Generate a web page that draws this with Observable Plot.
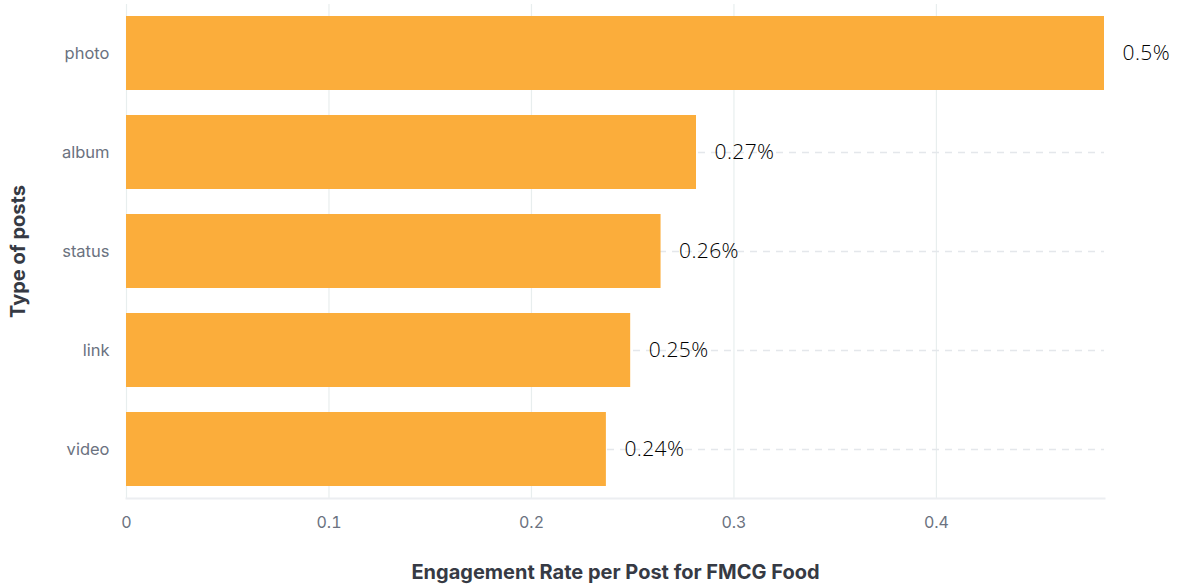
<!DOCTYPE html>
<html>
<head>
<meta charset="utf-8">
<script src="https://cdn.jsdelivr.net/npm/d3@7"></script>
<script src="https://cdn.jsdelivr.net/npm/@observablehq/plot@0.6"></script>
<style>
  html, body { margin: 0; padding: 0; background: #fff; }
  #chart svg { display: block; }
  .value-label text { letter-spacing: 0.4px; }
</style>
</head>
<body>
<div id="chart"></div>
<script>
const categories = ["photo", "album", "status", "link", "video"];
const values = [0.483, 0.2815, 0.264, 0.249, 0.237];
const valueLabels = ["0.5%", "0.27%", "0.26%", "0.25%", "0.24%"];
const xTicks = [0, 0.1, 0.2, 0.3, 0.4];
const xTickLabels = ["0", "0.1", "0.2", "0.3", "0.4"];
const xTitle = "Engagement Rate per Post for FMCG Food";
const yTitle = "Type of posts";

const data = categories.map((c, i) => ({type: c, value: values[i], label: valueLabels[i]}));
const xMax = d3.max(values);

const chart = Plot.plot({
  width: 1184,
  height: 584,
  marginTop: 4,
  marginBottom: 86,
  marginLeft: 126,
  marginRight: 80,
  style: {fontFamily: "Inter, sans-serif", background: "#fff"},
  x: {domain: [0, xMax]},
  y: {domain: categories, paddingInner: 0.2525, paddingOuter: 0.12},
  marks: [
    Plot.gridX(xTicks, {stroke: "#e8eeee", strokeOpacity: 1, strokeWidth: 1.2}),
    Plot.ruleY(categories, {stroke: "#e4e7eb", strokeWidth: 1.6, strokeDasharray: "7,6"}),
    Plot.frame({anchor: "bottom", stroke: "#eceef1", strokeWidth: 2}),
    Plot.barX(data, {x: "value", y: "type", fill: "#fbad3b"}),
    Plot.text(data, {
      x: "value", y: "type", text: "label",
      textAnchor: "start", dx: 18,
      fontSize: 21, fontFamily: "'Open Sans', sans-serif", fontWeight: 300,
      fill: "#000", className: "value-label"
    }),
    Plot.axisX(xTicks, {
      tickSize: 0, tickPadding: 18, fontSize: 16, color: "#6b7280",
      tickFormat: (d, i) => xTickLabels[i], label: null
    }),
    Plot.axisY({
      tickSize: 0, tickPadding: 17, fontSize: 16.5, color: "#6b7280", label: null
    }),
    Plot.text([xTitle], {
      frameAnchor: "bottom", dy: 74, text: d => d, textAnchor: "middle", lineAnchor: "middle",
      fontSize: 20, fontWeight: 700, fill: "#363a44"
    }),
    Plot.text([yTitle], {
      frameAnchor: "left", dx: -108, rotate: -90, text: d => d, textAnchor: "middle", lineAnchor: "middle",
      fontSize: 20, fontWeight: 700, fill: "#363a44"
    })
  ]
});

document.getElementById("chart").appendChild(chart);
</script>
</body>
</html>
